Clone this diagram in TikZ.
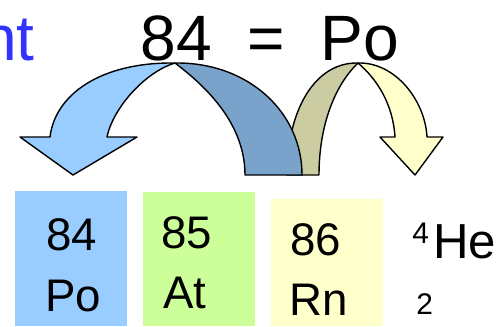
\documentclass[tikz,border=0pt]{standalone}
\usepackage{fontspec}
\setmainfont{Liberation Sans}
\usetikzlibrary{positioning}
\definecolor{pofill}{HTML}{99CCFF}
\definecolor{poshade}{HTML}{7AA3CC}
\definecolor{atfill}{HTML}{CCFF99}
\definecolor{rnfill}{HTML}{FFFFCC}
\definecolor{rnshade}{HTML}{CCCCA3}
\definecolor{headblue}{HTML}{3333FF}
\tikzset{
    headtxt/.style={font=\fontsize{36.5}{44}\selectfont,inner sep=0pt,anchor=base west},
    celltxt/.style={font=\fontsize{26}{31}\selectfont,inner sep=0pt,anchor=base west},
    hetxt/.style={font=\fontsize{28}{34}\selectfont,inner sep=0pt,anchor=base west},
    isotxt/.style={font=\fontsize{17}{20}\selectfont,inner sep=0pt,anchor=base west},
    cell/.style={rectangle,inner sep=0pt,anchor=north west,minimum width=2.24cm},
    arcband/.style={draw=black,line width=0.8pt,line join=round},
}
\begin{document}
\begin{tikzpicture}[x=0.02cm,y=-0.02cm]
                \useasboundingbox (0,0) rectangle (502,326);
                \clip (0,0) rectangle (502,326);
                % heading
                \node[headtxt,anchor=base east,text=headblue] (tail) at (35,60) {nt};
                \node[headtxt] (head) at (140,60) {84~~=~~Po};
                % curved arrows
                \filldraw[arcband,fill=rnshade] (287,175) .. controls (287,110) and (315,62) .. (358,63)
                    .. controls (335,85) and (319,125) .. (319,175) -- cycle;
                \filldraw[arcband,fill=poshade] (302,175) -- (245,175) .. controls (245,120) and (200,82) .. (175,63)
                    .. controls (248,62) and (302,112) .. (302,175) -- cycle;
                \filldraw[arcband,fill=pofill] (175,63) .. controls (100,62) and (55,95) .. (50,137)
                    -- (20,137) -- (73,175) -- (137,137) -- (107,137)
                    .. controls (113,108) and (145,72) .. (175,63) -- cycle;
                \filldraw[arcband,fill=rnfill] (358,63) .. controls (395,62) and (425,100) .. (427,137)
                    -- (443,137) -- (415,175) -- (380,137) -- (395,137)
                    .. controls (393,105) and (378,80) .. (358,63) -- cycle;
                % element cells
                \node[cell,fill=pofill,minimum height=2.7cm] (po) at (15,191) {};
                \node[cell,fill=atfill,minimum height=2.68cm] (at) at (143,192) {};
                \node[cell,fill=rnfill,minimum height=2.54cm] (rn) at (271,199) {};
                \node[celltxt] (poz) at (46,250) {84};
                \node[celltxt] (posym) at (45,311) {Po};
                \node[celltxt] (atz) at (161,248) {85};
                \node[celltxt] (atsym) at (163,308) {At};
                \node[celltxt] (rnz) at (290,255) {86};
                \node[celltxt] (rnsym) at (289,315) {Rn};
                % helium
                \node[isotxt] (hemass) at (412,243) {4};
                \node[hetxt] (he) at (433,258) {He};
                \node[isotxt] (hez) at (416,314) {2};
            \end{tikzpicture}
\end{document}
